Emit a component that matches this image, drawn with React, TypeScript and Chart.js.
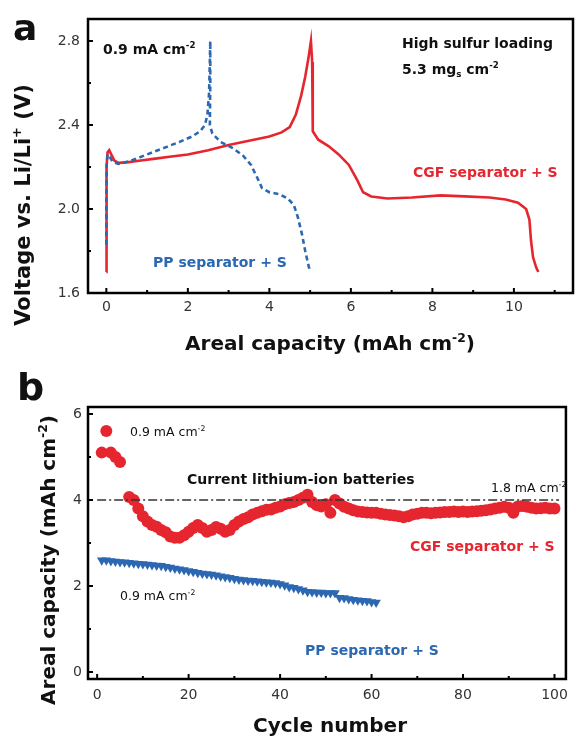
import React, { useEffect, useRef } from 'react';
import { Chart, registerables } from 'chart.js';
Chart.register(...registerables);

// ---------- Panel a: voltage profiles ----------
const cgfCapacity = [0.0, 0.0, 0.01, 0.03, 0.07, 0.12, 0.2, 0.3, 0.5, 0.8, 1.2, 1.6, 2.0, 2.5, 3.0, 3.5, 4.0, 4.3, 4.5, 4.65, 4.78, 4.88, 4.96, 5.02, 5.05, 5.06, 5.07, 5.2, 5.45, 5.7, 5.95, 6.15, 6.3, 6.5, 6.9, 7.5, 8.2, 8.8, 9.4, 9.8, 10.1, 10.3, 10.38, 10.42, 10.47, 10.55, 10.6];
const cgfVoltage = [1.70, 1.95, 2.20, 2.27, 2.28, 2.26, 2.23, 2.22, 2.222, 2.23, 2.24, 2.25, 2.26, 2.28, 2.305, 2.325, 2.345, 2.365, 2.39, 2.45, 2.54, 2.63, 2.72, 2.80, 2.70, 2.50, 2.37, 2.33, 2.30, 2.26, 2.21, 2.14, 2.08, 2.06, 2.05, 2.055, 2.065, 2.06, 2.055, 2.045, 2.03, 2.0, 1.95, 1.85, 1.77, 1.72, 1.70];
const ppCapacity = [0.0, 0.0, 0.01, 0.03, 0.08, 0.15, 0.3, 0.6, 1.0, 1.4, 1.8, 2.1, 2.3, 2.42, 2.48, 2.52, 2.54, 2.55, 2.55, 2.54, 2.6, 2.8, 3.1, 3.35, 3.55, 3.7, 3.82, 4.0, 4.25, 4.45, 4.6, 4.7, 4.8, 4.88, 4.95, 5.0];
const ppVoltage = [1.83, 2.05, 2.22, 2.26, 2.25, 2.225, 2.215, 2.23, 2.26, 2.29, 2.32, 2.345, 2.37, 2.40, 2.45, 2.55, 2.70, 2.80, 2.60, 2.40, 2.36, 2.32, 2.29, 2.255, 2.21, 2.15, 2.10, 2.08, 2.07, 2.05, 2.02, 1.96, 1.88, 1.80, 1.74, 1.70];
const voltageTicks = [1.6, 2.0, 2.4, 2.8];
const voltageMinorTicks = [1.8, 2.2, 2.6];
const capacityTicks = [0, 2, 4, 6, 8, 10];
const capacityMinorTicks = [1, 3, 5, 7, 9, 11];

// ---------- Panel b: cycling ----------
const cgfCycleCapacity = [
  5.10, 5.60, 5.10, 5.00, 4.88, null, 4.07, 4.00, 3.80, 3.62,
  3.50, 3.42, 3.38, 3.30, 3.25, 3.15, 3.12, 3.12, 3.18, 3.26,
  3.35, 3.42, 3.35, 3.26, 3.30, 3.37, 3.33, 3.26, 3.30, 3.42,
  3.50, 3.56, 3.60, 3.66, 3.70, 3.74, 3.77, 3.78, 3.82, 3.85,
  3.90, 3.93, 3.95, 4.00, 4.05, 4.12, 3.95, 3.88, 3.85, 3.90,
  3.70, 4.00, 3.92, 3.84, 3.80, 3.76, 3.73, 3.72, 3.71, 3.70,
  3.70, 3.68, 3.66, 3.65, 3.64, 3.62, 3.60, 3.62, 3.66, 3.68,
  3.70, 3.70, 3.69, 3.70, 3.71, 3.72, 3.72, 3.73, 3.72, 3.73,
  3.72, 3.73, 3.74, 3.75, 3.76, 3.78, 3.80, 3.82, 3.84, 3.82,
  3.70, 3.85, 3.86, 3.84, 3.82, 3.80, 3.81, 3.82, 3.80, 3.80,
];
const ppCycleCapacity = [
  2.60, 2.60, 2.58, 2.57, 2.56, 2.55, 2.54, 2.53, 2.52, 2.51,
  2.50, 2.49, 2.48, 2.47, 2.45, 2.43, 2.41, 2.39, 2.37, 2.35,
  2.33, 2.31, 2.29, 2.28, 2.27, 2.25, 2.23, 2.21, 2.19, 2.17,
  2.15, 2.14, 2.13, 2.12, 2.11, 2.10, 2.09, 2.08, 2.07, 2.05,
  2.02, 1.98, 1.96, 1.93, 1.90, 1.87, 1.86, 1.85, 1.85, 1.84,
  1.84, 1.84, 1.73, 1.72, 1.70, 1.68, 1.67, 1.66, 1.65, 1.63,
  1.62,
];
const cycleTicks = [0, 20, 40, 60, 80, 100];
const cycleMinorTicks = [10, 30, 50, 70, 90];
const arealTicks = [0, 2, 4, 6];
const arealMinorTicks = [1, 3, 5];
const liIonLevel = 4;
const liIonCycles = [0, 101];

const FAM = '"DejaVu Sans", "Liberation Sans", sans-serif';
const RED = '#e6262f';
const BLUE = '#2c67b2';
const TXT = '#111';

type Part = [string, string];
function drawRich(ctx: CanvasRenderingContext2D, parts: Part[], x: number, y: number, size: number, weight: string, color: string, align = 'left', rotate = 0) {
  ctx.save();
  ctx.translate(x, y);
  if (rotate) ctx.rotate(rotate);
  ctx.fillStyle = color;
  ctx.textBaseline = 'alphabetic';
  ctx.textAlign = 'left';
  const fontFor = (k: string) => `${weight} ${k ? size * 0.62 : size}px ${FAM}`;
  let total = 0;
  const widths = parts.map(([t, k]) => {
    ctx.font = fontFor(k);
    const w = ctx.measureText(t).width;
    total += w;
    return w;
  });
  let cx = align === 'center' ? -total / 2 : align === 'right' ? -total : 0;
  parts.forEach(([t, k], i) => {
    ctx.font = fontFor(k);
    const dy = k === 'sup' ? -size * 0.42 : k === 'sub' ? size * 0.22 : 0;
    ctx.fillText(t, cx, dy);
    cx += widths[i];
  });
  ctx.restore();
}

function framePlugin(cfg: any) {
  return {
    id: 'frameTicks',
    afterDatasetsDraw(chart: any) {
      const { ctx, chartArea: a, scales } = chart;
      const x = scales.x, y = scales.y;
      ctx.save();
      ctx.strokeStyle = '#000';
      ctx.lineWidth = 2.5;
      ctx.setLineDash([]);
      ctx.strokeRect(a.left, a.top, a.right - a.left, a.bottom - a.top);
      ctx.lineWidth = 2;
      ctx.beginPath();
      const tx = (vals: number[], len: number) => vals.forEach(v => { const p = x.getPixelForValue(v); ctx.moveTo(p, a.bottom); ctx.lineTo(p, a.bottom - len); });
      const ty = (vals: number[], len: number) => vals.forEach(v => { const p = y.getPixelForValue(v); ctx.moveTo(a.left, p); ctx.lineTo(a.left + len, p); });
      tx(cfg.xMajor, 5); tx(cfg.xMinor, 3);
      ty(cfg.yMajor, 5); ty(cfg.yMinor, 3);
      ctx.stroke();
      ctx.restore();
      cfg.texts(ctx);
    },
  };
}

function axisCfg(min: number, max: number, ticks: number[], fmt: (v: number) => string, pad: number, fit: (s: any) => void) {
  return {
    type: 'linear',
    min, max,
    afterBuildTicks: (s: any) => { s.ticks = ticks.map(v => ({ value: v })); },
    afterFit: fit,
    ticks: { font: { family: FAM, size: 14 }, color: '#333', padding: pad, callback: (v: any) => fmt(Number(v)), autoSkip: false, maxRotation: 0 },
    grid: { display: false, drawTicks: false },
    border: { display: false },
  };
}

export default function App() {
  const refA = useRef<HTMLCanvasElement>(null);
  const refB = useRef<HTMLCanvasElement>(null);

  useEffect(() => {
    document.body.style.margin = '0';
    const chartA = new Chart(refA.current as HTMLCanvasElement, {
      type: 'scatter',
      data: {
        datasets: [
          {
            data: ppCapacity.map((c, i) => ({ x: c, y: ppVoltage[i] })),
            showLine: true, borderColor: BLUE, borderWidth: 2.6, borderDash: [5, 3.5], pointRadius: 0, tension: 0,
          },
          {
            data: cgfCapacity.map((c, i) => ({ x: c, y: cgfVoltage[i] })),
            showLine: true, borderColor: RED, borderWidth: 2.6, pointRadius: 0, tension: 0,
          },
        ],
      },
      options: {
        animation: false, responsive: false, events: [],
        layout: { padding: { left: 0, right: 3, top: 19, bottom: 0 } },
        plugins: { legend: { display: false }, tooltip: { enabled: false } },
        scales: {
          x: axisCfg(-0.45, 11.45, capacityTicks, v => String(v), 6, (s: any) => { s.height = 67; }),
          y: axisCfg(1.6, 2.905, voltageTicks, v => v.toFixed(1), 8, (s: any) => { s.width = 88; }),
        } as any,
      },
      plugins: [framePlugin({
        xMajor: capacityTicks, xMinor: capacityMinorTicks, yMajor: voltageTicks, yMinor: voltageMinorTicks,
        texts: (ctx: CanvasRenderingContext2D) => {
          drawRich(ctx, [['a', '']], 13, 40, 36, 'bold', TXT);
          drawRich(ctx, [['Voltage vs. Li/Li', ''], ['+', 'sup'], [' (V)', '']], 30, 205, 21, 'bold', TXT, 'center', -Math.PI / 2);
          drawRich(ctx, [['Areal capacity (mAh cm', ''], ['-2', 'sup'], [')', '']], 330, 350, 20, 'bold', TXT, 'center');
          drawRich(ctx, [['0.9 mA cm', ''], ['-2', 'sup']], 103, 54, 14, 'bold', TXT);
          drawRich(ctx, [['High sulfur loading', '']], 402, 48, 14, 'bold', TXT);
          drawRich(ctx, [['5.3 mg', ''], ['s', 'sub'], [' cm', ''], ['-2', 'sup']], 402, 74, 14, 'bold', TXT);
          drawRich(ctx, [['CGF separator + S', '']], 413, 177, 14, 'bold', RED);
          drawRich(ctx, [['PP separator + S', '']], 153, 267, 14, 'bold', BLUE);
        },
      })],
    } as any);

    const chartB = new Chart(refB.current as HTMLCanvasElement, {
      type: 'scatter',
      data: {
        datasets: [
          {
            data: liIonCycles.map(c => ({ x: c, y: liIonLevel })),
            showLine: true, borderColor: '#333', borderWidth: 1.5, borderDash: [9, 3, 2, 3], pointRadius: 0,
          },
          {
            data: cgfCycleCapacity.map((v, i) => ({ x: i + 1, y: v })),
            showLine: false, pointRadius: 6, pointBackgroundColor: RED, pointBorderWidth: 0, pointStyle: 'circle',
          },
          {
            data: ppCycleCapacity.map((v, i) => ({ x: i + 1, y: v })),
            showLine: false, pointRadius: 5.5, pointBackgroundColor: BLUE, pointBorderWidth: 0, pointStyle: 'triangle', pointRotation: 180,
          },
        ],
      },
      options: {
        animation: false, responsive: false, events: [],
        layout: { padding: { left: 0, right: 2, top: 47, bottom: 0 } },
        plugins: { legend: { display: false }, tooltip: { enabled: false } },
        scales: {
          x: axisCfg(-2, 102.5, cycleTicks, v => String(v), 8, (s: any) => { s.height = 57; }),
          y: axisCfg(-0.16, 6.16, arealTicks, v => String(v), 6, (s: any) => { s.width = 88; }),
        } as any,
      },
      plugins: [framePlugin({
        xMajor: cycleTicks, xMinor: cycleMinorTicks, yMajor: arealTicks, yMinor: arealMinorTicks,
        texts: (ctx: CanvasRenderingContext2D) => {
          drawRich(ctx, [['b', '']], 17, 40, 38, 'bold', TXT);
          drawRich(ctx, [['Areal capacity (mAh cm', ''], ['-2', 'sup'], [')', '']], 55, 200, 20, 'bold', TXT, 'center', -Math.PI / 2);
          drawRich(ctx, [['Cycle number', '']], 330, 372, 20, 'bold', TXT, 'center');
          drawRich(ctx, [['0.9 mA cm', ''], ['-2', 'sup']], 130, 76, 12.5, 'normal', TXT);
          drawRich(ctx, [['Current lithium-ion batteries', '']], 187, 124, 14, 'bold', TXT);
          drawRich(ctx, [['1.8 mA cm', ''], ['-2', 'sup']], 491, 132, 12.5, 'normal', TXT);
          drawRich(ctx, [['CGF separator + S', '']], 410, 191, 14, 'bold', RED);
          drawRich(ctx, [['0.9 mA cm', ''], ['-2', 'sup']], 120, 240, 12.5, 'normal', TXT);
          drawRich(ctx, [['PP separator + S', '']], 305, 295, 14, 'bold', BLUE);
        },
      })],
    } as any);

    return () => { chartA.destroy(); chartB.destroy(); };
  }, []);

  return (
    <div style={{ width: 576, background: '#fff' }}>
      <canvas ref={refA} width={576} height={360} style={{ display: 'block', width: 576, height: 360 }} />
      <canvas ref={refB} width={576} height={376} style={{ display: 'block', width: 576, height: 376 }} />
    </div>
  );
}
